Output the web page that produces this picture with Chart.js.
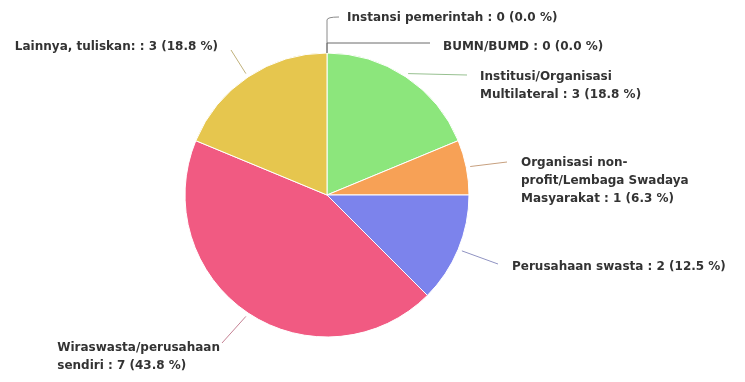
<!DOCTYPE html>
<html>
<head>
<meta charset="utf-8">
<script src="https://cdn.jsdelivr.net/npm/chart.js@4/dist/chart.umd.min.js"></script>
<style>
  html, body { margin: 0; padding: 0; background: #ffffff; }
  #wrap { width: 745px; height: 382px; position: relative; }
</style>
</head>
<body>
<div id="wrap"><canvas id="c" width="745" height="382"></canvas></div>
<script>
// ---- data ----
const categories = [
  ["Instansi pemerintah"],
  ["BUMN/BUMD"],
  ["Institusi/Organisasi", "Multilateral"],
  ["Organisasi non-", "profit/Lembaga Swadaya", "Masyarakat"],
  ["Perusahaan swasta"],
  ["Wiraswasta/perusahaan", "sendiri"],
  ["Lainnya, tuliskan:"]
];
const counts = [0, 0, 3, 1, 2, 7, 3];
const sliceColors = ["#9aa0a8", "#8a8a8a", "#8ce67c", "#f7a156", "#7c83ec", "#f15a82", "#e6c64e"];

// label placement (offsets from pie centre in px), side: 1 = text to the right, -1 = left
const labelLayout = [
  { path: [[0, -175]], curveTo: [12, -178], text: [20, -177], side: 1 },
  { path: [[0, -152], [103, -152]], text: [116, -148], side: 1 },
  { end: [140, -120], text: [153, -118], side: 1 },
  { end: [180, -33], text: [194, -32], side: 1 },
  { end: [171, 69], text: [185, 72], side: 1 },
  { end: [-105, 148], text: [-107, 153], side: -1 },
  { end: [-96, -145], text: [-109, -148], side: -1 }
];

const total = counts.reduce((a, b) => a + b, 0);

function labelLines(i) {
  const lines = categories[i].slice();
  const pct = (counts[i] / total * 100).toFixed(1);
  lines[lines.length - 1] = lines[lines.length - 1] + " : " + counts[i] + " (" + pct + " %)";
  return lines;
}

function mix(hex, grey, t) {
  const p = h => [parseInt(h.slice(1,3),16), parseInt(h.slice(3,5),16), parseInt(h.slice(5,7),16)];
  const a = p(hex), b = p(grey);
  return "rgb(" + a.map((v, k) => Math.round(v * t + b[k] * (1 - t))).join(",") + ")";
}

const outsideLabels = {
  id: "outsideLabels",
  afterDatasetsDraw(chart) {
    const ctx = chart.ctx;
    const meta = chart.getDatasetMeta(0);
    const lineH = 18;
    ctx.save();
    ctx.font = "bold 12px 'DejaVu Sans', Verdana, sans-serif";
    ctx.textBaseline = "middle";
    meta.data.forEach((arc, i) => {
      const cx = arc.x, cy = arc.y, r = arc.outerRadius;
      const mid = (arc.startAngle + arc.endAngle) / 2;
      const L = labelLayout[i];
      ctx.lineWidth = 1;
      ctx.beginPath();
      if (L.path) {
        ctx.strokeStyle = i === 0 ? "#8a8a8a" : "#6a6a6a";
        ctx.moveTo(cx + r * Math.cos(mid), cy + r * Math.sin(mid));
        L.path.forEach(p => ctx.lineTo(cx + p[0], cy + p[1]));
        if (L.curveTo) {
          const last = L.path[L.path.length - 1];
          ctx.quadraticCurveTo(cx + last[0], cy + L.curveTo[1], cx + L.curveTo[0], cy + L.curveTo[1]);
        }
      } else {
        ctx.strokeStyle = mix(sliceColors[i], "#a0a0a0", 0.45);
        ctx.moveTo(cx + (r + 4) * Math.cos(mid), cy + (r + 4) * Math.sin(mid));
        ctx.lineTo(cx + L.end[0], cy + L.end[1]);
      }
      ctx.stroke();

      const lines = labelLines(i);
      ctx.fillStyle = "#333333";
      let x = cx + L.text[0];
      if (L.side < 0) {
        const w = Math.max(...lines.map(s => ctx.measureText(s).width));
        x -= w;
      }
      ctx.textAlign = "left";
      lines.forEach((s, k) => ctx.fillText(s, x, cy + L.text[1] + k * lineH));
    });
    ctx.restore();
  }
};

new Chart(document.getElementById("c"), {
  type: "pie",
  data: {
    labels: categories,
    datasets: [{
      data: counts,
      backgroundColor: sliceColors,
      borderColor: "#ffffff",
      borderWidth: 1
    }]
  },
  options: {
    responsive: false,
    animation: false,
    radius: 142,
    layout: { padding: { left: 185, right: 276, top: 53, bottom: 45 } },
    plugins: {
      legend: { display: false },
      tooltip: { enabled: false }
    }
  },
  plugins: [outsideLabels]
});
</script>
</body>
</html>
